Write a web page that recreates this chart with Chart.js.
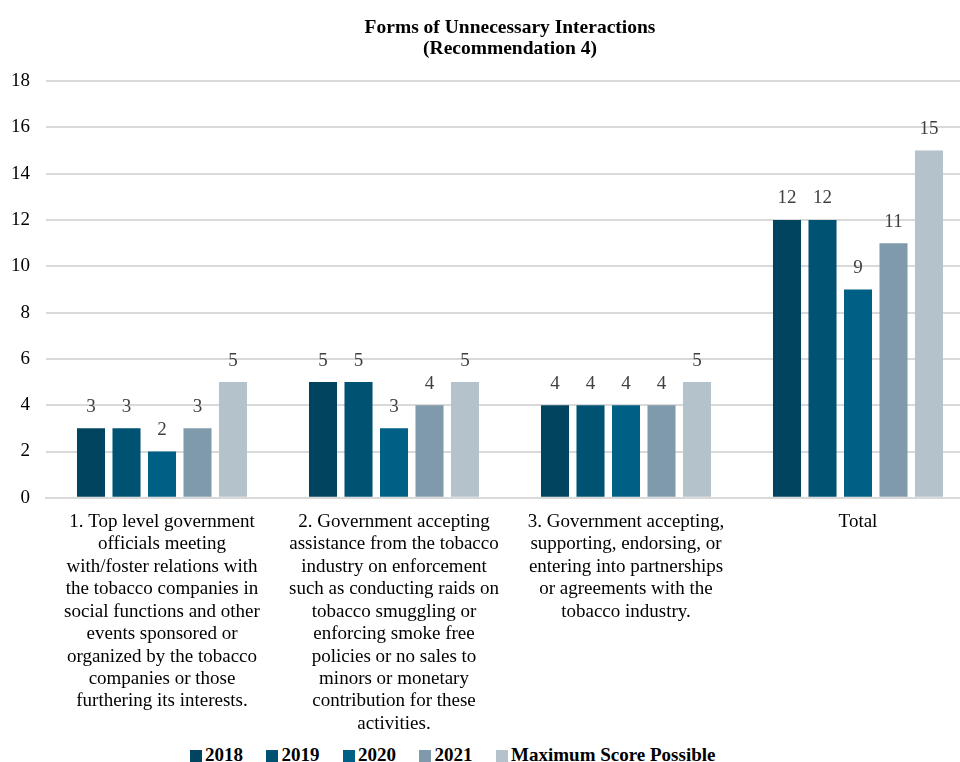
<!DOCTYPE html>
<html>
<head>
<meta charset="utf-8">
<script src="https://cdn.jsdelivr.net/npm/chart.js@4"></script>
<style>
  html, body { margin: 0; padding: 0; background: #fff; overflow: hidden; }
  #page { position: relative; width: 960px; height: 762px; overflow: hidden; }
  #wrap { position: absolute; left: 0; top: 0; width: 974px; height: 740px; }
  #legend {
    position: absolute; left: 0; top: 743px; width: 905px;
    display: flex; justify-content: center; align-items: center;
    font: bold 19px "Liberation Serif", "Times New Roman", serif; color: #000;
    line-height: 24px;
  }
  #legend .item { display: flex; align-items: center; margin-right: 23px; white-space: nowrap; }
  #legend .item:last-child { margin-right: 0; }
  #legend .box { width: 12px; height: 12px; margin-right: 3.5px; margin-top: 1px; }
</style>
</head>
<body>
<div id="page">
  <div id="wrap"><canvas id="chart"></canvas></div>
  <div id="legend"></div>
</div>
<script>
const categories = [
    ['1. Top level government', 'officials meeting', 'with/foster relations with', 'the tobacco companies in', 'social functions and other', 'events sponsored or', 'organized by the tobacco', 'companies or those', 'furthering its interests.'],
    ['2. Government accepting', 'assistance from the tobacco', 'industry on enforcement', 'such as conducting raids on', 'tobacco smuggling or', 'enforcing smoke free', 'policies or no sales to', 'minors or monetary', 'contribution for these', 'activities.'],
    ['3. Government accepting,', 'supporting, endorsing, or', 'entering into partnerships', 'or agreements with the', 'tobacco industry.'],
    'Total'
];
const seriesNames = ['2018', '2019', '2020', '2021', 'Maximum Score Possible'];
const values2018 = [3, 5, 4, 12];
const values2019 = [3, 5, 4, 12];
const values2020 = [2, 3, 4, 9];
const values2021 = [3, 4, 4, 11];
const valuesMax = [5, 5, 5, 15];
const colors = ['#00445f', '#005273', '#005f85', '#7f9aab', '#b4c2cc'];

const serif = '"Liberation Serif", "Times New Roman", serif';

// draw the value above every bar (no datalabels plugin available)
const valueLabels = {
    id: 'valueLabels',
    afterDatasetsDraw(chart) {
        const ctx = chart.ctx;
        ctx.save();
        ctx.font = '19px ' + serif;
        ctx.fillStyle = '#404040';
        ctx.textAlign = 'center';
        ctx.textBaseline = 'bottom';
        chart.data.datasets.forEach((ds, i) => {
            chart.getDatasetMeta(i).data.forEach((bar, j) => {
                ctx.fillText(ds.data[j], bar.x, bar.y - 12);
            });
        });
        ctx.restore();
    }
};

const allValues = [values2018, values2019, values2020, values2021, valuesMax];

const chart = new Chart(document.getElementById('chart'), {
    type: 'bar',
    data: {
        labels: categories,
        datasets: seriesNames.map((name, i) => ({
            label: name,
            data: allValues[i],
            backgroundColor: colors[i],
            barPercentage: 0.79,
            categoryPercentage: 0.765,
        })),
    },
    options: {
        responsive: true,
        maintainAspectRatio: false,
        animation: false,
        layout: { padding: { left: 10, right: 0, top: 4, bottom: 0 } },
        plugins: {
            title: {
                display: true,
                fullSize: false,
                text: ['Forms of Unnecessary Interactions', '(Recommendation 4)'],
                color: '#000',
                font: { family: serif, size: 19.5, weight: 'bold', lineHeight: 1.08 },
                padding: { top: 13, bottom: 22 },
            },
            legend: { display: false },
            tooltip: { enabled: false },
        },
        scales: {
            x: {
                grid: { display: false },
                border: { color: '#d9d9d9', width: 2 },
                ticks: {
                    color: '#000',
                    font: { family: serif, size: 19, lineHeight: 1.18 },
                    maxRotation: 0,
                    autoSkip: false,
                    padding: 5,
                },
            },
            y: {
                min: 0,
                max: 18,
                afterFit: (scale) => { scale.width = 36; },
                ticks: {
                    stepSize: 2,
                    color: '#000',
                    font: { family: serif, size: 19 },
                    padding: 16,
                },
                grid: { color: '#d9d9d9', lineWidth: 2, drawTicks: false },
                border: { display: false },
            },
        },
    },
    plugins: [valueLabels],
});

// html legend built from the chart's datasets
const legendEl = document.getElementById('legend');
chart.data.datasets.forEach((ds) => {
    const item = document.createElement('div');
    item.className = 'item';
    const box = document.createElement('span');
    box.className = 'box';
    box.style.background = ds.backgroundColor;
    const text = document.createElement('span');
    text.textContent = ds.label;
    item.appendChild(box);
    item.appendChild(text);
    legendEl.appendChild(item);
});
</script>
</body>
</html>
